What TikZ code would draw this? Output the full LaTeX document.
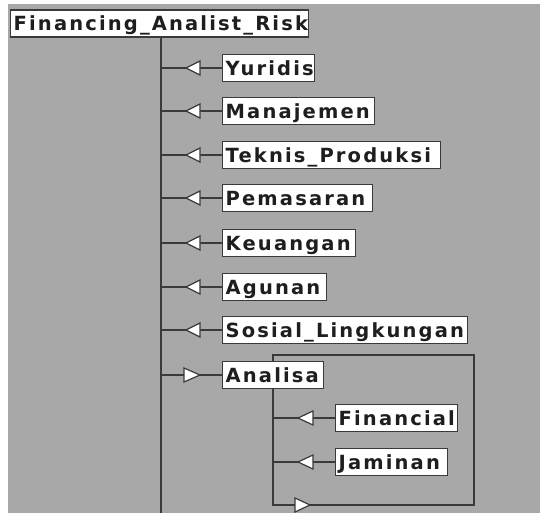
\documentclass[tikz,border=0pt]{standalone}
\usepackage{fontspec}
\setmainfont{DejaVu Sans}[LetterSpace=11]
\usetikzlibrary{calc}
\definecolor{bggray}{HTML}{A8A8A8}
\definecolor{edge}{HTML}{3A3A3A}
\definecolor{txt}{HTML}{1E1E1E}
\tikzset{
  item/.style={draw=edge, line width=1.4pt, fill=white, anchor=west,
    inner xsep=3pt, inner ysep=0pt, minimum height=27pt,
    text height=15pt, text depth=-2pt,
    font=\fontsize{19.5}{21}\selectfont\bfseries, text=txt},
  conn/.style={draw=edge, line width=1.3pt},
  tri/.style={draw=edge, line width=1.2pt, fill=white, line join=miter},
}
\begin{document}
\begin{tikzpicture}[x=1pt,y=-1pt]
\useasboundingbox (0,0) rectangle (540,513);
\fill[white] (0,0) rectangle (540,513);
\fill[bggray] (8,4) rectangle (540,513);
% group box
\draw[conn] (273,355) rectangle (474,505);
% root
\node[item, text width=292pt] (root) at (10,23.5) {Financing\_Analist\_Risk};
\coordinate (trunktop) at (161,37);
\coordinate (trunkbot) at (161,513);
\draw[conn] (trunktop) -- (trunkbot);
% children
\node[item, text width=86pt]  (yur) at (222,68)  {Yuridis};
\node[item, text width=146pt] (man) at (222,111) {Manajemen};
\node[item, text width=212pt] (tek) at (222,155) {Teknis\_Produksi};
\node[item, text width=144pt] (pem) at (222,198) {Pemasaran};
\node[item, text width=127pt] (keu) at (222,243) {Keuangan};
\node[item, text width=98pt]  (agu) at (222,287) {Agunan};
\node[item, text width=239pt] (sos) at (222,330) {Sosial\_Lingkungan};
\node[item, text width=95pt]  (ana) at (222,375) {Analisa};
\node[item, text width=116pt] (fin) at (335,418) {Financial};
\node[item, text width=106pt] (jam) at (335,462) {Jaminan};
% connectors with left-pointing triangles
\foreach \n in {yur,man,tek,pem,keu,agu,sos}{
  \draw[conn] (trunktop |- \n.west) -- (\n.west);
  \draw[tri] ($(\n.west)+(-36,0)$) -- ($(\n.west)+(-22,-7)$) -- ($(\n.west)+(-22,7)$) -- cycle;
}
% Analisa: right-pointing triangle
\draw[conn] (trunktop |- ana.west) -- (ana.west);
\draw[tri] ($(ana.west)+(-22,0)$) -- ($(ana.west)+(-38,-7)$) -- ($(ana.west)+(-38,7)$) -- cycle;
% inner connectors
\coordinate (inner) at (273,505);
\foreach \n in {fin,jam}{
  \draw[conn] (inner |- \n.west) -- (\n.west);
  \draw[tri] ($(\n.west)+(-37,0)$) -- ($(\n.west)+(-22,-7)$) -- ($(\n.west)+(-22,7)$) -- cycle;
}
% bottom right-pointing triangle
\draw[tri] (310,505) -- (295,498) -- (295,512) -- cycle;
\end{tikzpicture}
\end{document}
